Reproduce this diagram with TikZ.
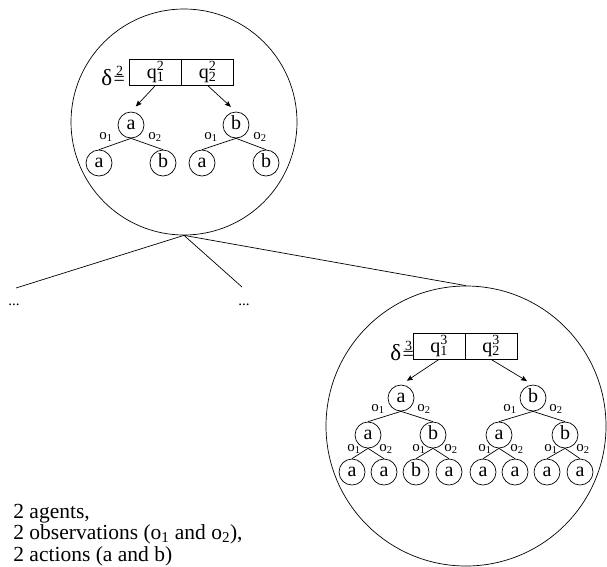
\documentclass[tikz,border=0pt]{standalone}
\usepackage{fontspec}
\setmainfont{Liberation Serif}
\usetikzlibrary{arrows.meta,calc}

% q with a stacked superscript and subscript
\newcommand\qlab[2]{q\rlap{\textsuperscript{#1}}\textsubscript{#2}}
% observation label o_i
\newcommand\olab[1]{o\textsubscript{#1}}
% delta^n= with the exponent set above the equals sign
\newcommand\dlab[1]{{\fontsize{23}{23}\selectfont δ}\kern1.5pt\rlap{\kern2.5pt\raisebox{10pt}{\fontsize{14}{14}\selectfont #1}}=}

\begin{document}
\begin{tikzpicture}[x=1pt,y=-1pt,line width=0.7pt,
  every node/.style={inner sep=0pt,font=\fontsize{20}{24}\selectfont},
  bigcircle/.style={draw,circle,minimum size=#1},
  act/.style={draw,circle,minimum size=26pt,text height=9pt,text depth=0pt},
  cell/.style={draw,minimum width=52pt,minimum height=26pt},
  elab/.style={font=\fontsize{15}{18}\selectfont},
  dots/.style={font=\fontsize{15}{18}\selectfont},
  arr/.style={-{Stealth[length=6pt,width=5pt,inset=1pt]},shorten >=7pt},
  info/.style={anchor=base west,font=\fontsize{21.5}{24}\selectfont}]

\useasboundingbox (0,0) rectangle (607,566);

% ---- the two policy circles and the branches between them
\node[bigcircle=226pt] (c1) at (184,122) {};
\node[bigcircle=280pt] (c2) at (466,426) {};
\coordinate (e1) at (16,288);
\coordinate (e2) at (242,287);
\draw (c1.south) -- (e1);
\draw (c1.south) -- (e2);
\draw (c1.south) -- (c2.north);
\node[dots] (d1) at (14,305) {...};
\node[dots] (d2) at (244,305) {...};

% ---- depth-2 policy
\node[anchor=base west] (dl2) at (101,85) {\dlab{2}};
\node[cell] (q21) at (155.5,72) {\qlab{2}{1}};
\node[cell] (q22) at (207.5,72) {\qlab{2}{2}};

\node[act] (pa) at (131,125) {a};
\node[act] (pb) at (236,125) {b};
\node[act] (paa) at (99,163) {a};
\node[act] (pab) at (163,163) {b};
\node[act] (pba) at (202,163) {a};
\node[act] (pbb) at (266,163) {b};

\draw[arr] (q21.south) -- (pa.north);
\draw[arr] (q22.south) -- (pb.north);
\foreach \p/\l/\r in {pa/paa/pab, pb/pba/pbb}{
  \draw (\p.south) -- (\l.north);
  \draw (\p.south) -- (\r.north);
  \node[elab] at ($(\p)+(-25,12)$) {\olab{1}};
  \node[elab] at ($(\p)+(24,12)$) {\olab{2}};
}

% ---- depth-3 policy
\node[anchor=base west] (dl3) at (390,360) {\dlab{3}};
\node[cell] (q31) at (439,346) {\qlab{3}{1}};
\node[cell] (q32) at (491,346) {\qlab{3}{2}};

\node[act] (ra) at (401,398) {a};
\node[act] (rb) at (533,398) {b};
\node[act] (raa) at (368,435) {a};
\node[act] (rab) at (433,435) {b};
\node[act] (rba) at (499,435) {a};
\node[act] (rbb) at (565,435) {b};
\node[act] (raaa) at (352,472) {a};
\node[act] (raab) at (384,472) {a};
\node[act] (raba) at (416,472) {b};
\node[act] (rabb) at (449,472) {a};
\node[act] (rbaa) at (483,472) {a};
\node[act] (rbab) at (515,472) {a};
\node[act] (rbba) at (547,472) {a};
\node[act] (rbbb) at (580,472) {a};

\draw[arr] (q31.south) -- (ra.north);
\draw[arr] (q32.south) -- (rb.north);
\foreach \p/\l/\r in {ra/raa/rab, rb/rba/rbb}{
  \draw (\p.south) -- (\l.north);
  \draw (\p.south) -- (\r.north);
  \node[elab] at ($(\p)+(-23,11)$) {\olab{1}};
  \node[elab] at ($(\p)+(23,11)$) {\olab{2}};
}
\foreach \p/\l/\r in {raa/raaa/raab, rab/raba/rabb, rba/rbaa/rbab, rbb/rbba/rbbb}{
  \draw (\p.south) -- (\l.north);
  \draw (\p.south) -- (\r.north);
  \node[elab] at ($(\p)+(-14,14)$) {\olab{1}};
  \node[elab] at ($(\p)+(18,14)$) {\olab{2}};
}

% ---- problem size
\node[info] (t1) at (13,518) {2 agents,};
\node[info] (t2) at (13,539.5) {2 observations (\olab{1} and \olab{2}),};
\node[info] (t3) at (13,561) {2 actions (a and b)};
\end{tikzpicture}
\end{document}
